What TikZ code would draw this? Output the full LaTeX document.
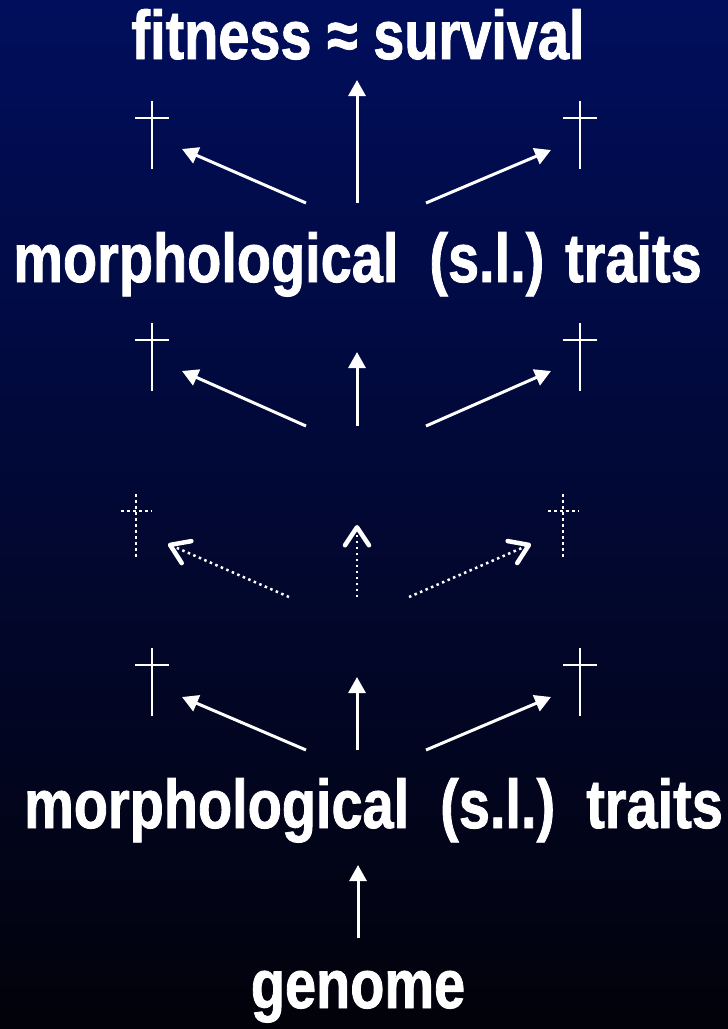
\documentclass[tikz,border=0pt]{standalone}
\usepackage{fontspec}
\setmainfont{Liberation Sans}[FakeStretch=0.81,FakeBold=1.2]
\usetikzlibrary{arrows.meta}
\definecolor{skytop}{RGB}{1,14,92}
\definecolor{skybottom}{RGB}{2,2,10}
\begin{document}
\begin{tikzpicture}[x=1pt,y=-1pt,
  caption/.style={text=white,font=\fontsize{69}{69}\selectfont\bfseries,anchor=base,inner sep=0pt},
  link/.style={draw=white,line width=3pt,-{Triangle[length=16pt,width=17pt]}},
  faintlink/.style={draw=white,line width=2.5pt,dash pattern=on 2.5pt off 3.5pt,
    -{Straight Barb[length=18pt,width=24pt,line width=4.5pt,round]}},
  crossline/.style={draw=white,line width=2.3pt},
  faintcross/.style={draw=white,line width=2.5pt,dash pattern=on 2.5pt off 3.5pt}]

% background
\useasboundingbox (0,0) rectangle (728,1029);
\fill[top color=skytop,bottom color=skybottom] (0,0) rectangle (728,1029);

% labels
\node[caption] (fit) at (358,59) {fitness ≈ survival};
\node[caption] (traitsA) at (357.5,282) {morphological\ \ (s.l.) traits};
\node[caption] (traitsB) at (373.5,828) {morphological\ \ (s.l.)\ \ traits};
\node[caption] (genome) at (358,1008) {genome};

% crosses (centre = crossing of the bars)
\foreach \cx/\cy in {152/118,580/118,152/340,580/340,152/665,580/665}{
  \draw[crossline] (\cx,\cy-17) -- (\cx,\cy+51) (\cx-17,\cy) -- (\cx+17,\cy);
}
\foreach \cx in {136,563}{
  \draw[faintcross] (\cx,494) -- (\cx,559) (\cx-15,511) -- (\cx+16,511);
}

% connector end points
\coordinate (a1s) at (357,203); \coordinate (a1t) at (357,80);
\coordinate (l1s) at (306,203); \coordinate (l1t) at (182,149);
\coordinate (r1s) at (426,203); \coordinate (r1t) at (551,150);

\coordinate (a2s) at (357,426); \coordinate (a2t) at (357,352);
\coordinate (l2s) at (306,426); \coordinate (l2t) at (182,371);
\coordinate (r2s) at (426,426); \coordinate (r2t) at (551,371);

\coordinate (a3s) at (357,597); \coordinate (a3t) at (357,525);
\coordinate (l3s) at (289,597); \coordinate (l3t) at (168,544);
\coordinate (r3s) at (409,597); \coordinate (r3t) at (531,544);

\coordinate (a4s) at (357,750); \coordinate (a4t) at (357,677);
\coordinate (l4s) at (306,750); \coordinate (l4t) at (182,697);
\coordinate (r4s) at (426,750); \coordinate (r4t) at (551,697);

\coordinate (gs) at (358,938); \coordinate (gt) at (358,865);

% connectors
\foreach \k in {1,2,4}{
  \draw[link] (a\k s) -- (a\k t);
  \draw[link] (l\k s) -- (l\k t);
  \draw[link] (r\k s) -- (r\k t);
}
\draw[faintlink] (a3s) -- (a3t);
\draw[faintlink] (l3s) -- (l3t);
\draw[faintlink] (r3s) -- (r3t);
\draw[link] (gs) -- (gt);
\end{tikzpicture}
\end{document}
